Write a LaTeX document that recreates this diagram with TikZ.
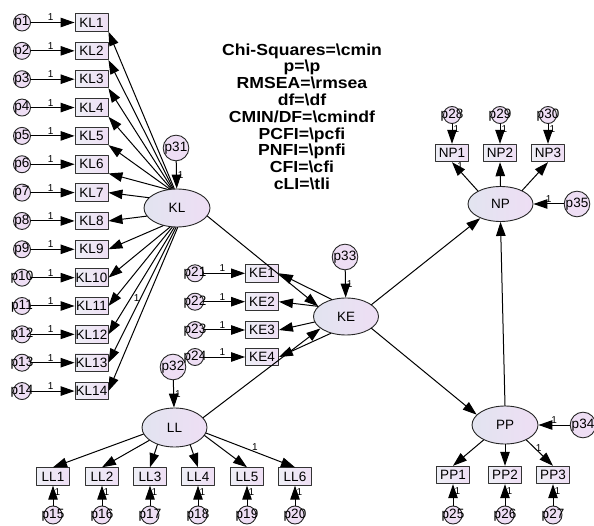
\documentclass[tikz,border=0pt]{standalone}
\usepackage{fontspec}
\setmainfont{Liberation Sans}
\usetikzlibrary{positioning,calc,arrows.meta,shapes.geometric}

\definecolor{tim}{RGB}{238,222,244}
\definecolor{xam}{RGB}{226,228,240}

\begin{document}
\begin{tikzpicture}[x=1pt,y=-1pt, font=\fontsize{13.5}{15}\selectfont, line cap=round, line join=round,
	obs/.style={draw=black!80, line width=0.9pt, left color=xam!60!white, right color=tim, minimum width=33pt, minimum height=17.5pt, inner sep=0pt},
	lat/.style={ellipse, draw=black!85, line width=0.9pt, left color=xam, right color=tim, minimum width=66pt, minimum height=38pt, inner sep=0pt},
	err/.style={circle, draw=black!85, line width=0.9pt, fill=tim, minimum size=17pt, inner sep=0pt},
	errL/.style={err, minimum size=24pt},
	arr/.style={-{Triangle[length=14pt,width=9.5pt]}, line width=1pt},
	lbl/.style={font=\fontsize{10}{10}\selectfont, inner sep=1pt}]
	\useasboundingbox (0,0) rectangle (594,526);
	
	% ===== chỉ số mô hình =====
	\node[anchor=north, align=center, xscale=1.1, font=\bfseries\fontsize{16}{16.8}\selectfont] (fit) at (302,40)
	{Chi-Squares=\textbackslash cmin\\ p=\textbackslash p\\ RMSEA=\textbackslash rmsea\\ df=\textbackslash df\\
		CMIN/DF=\textbackslash cmindf\\ PCFI=\textbackslash pcfi\\ PNFI=\textbackslash pnfi\\ CFI=\textbackslash cfi\\ cLI=\textbackslash tli};
	
	% ===== các biến tiềm ẩn =====
	\node[lat] (KL) at (177,208) {KL};
	\node[lat, minimum width=65pt, minimum height=37pt] (KE) at (346,316.5) {KE};
	\node[lat, minimum width=65pt, minimum height=39pt] (LL) at (174.5,427.5) {LL};
	\node[lat, minimum width=65pt, minimum height=35pt] (NP) at (500.5,204) {NP};
	\node[lat] (PP) at (505,425) {PP};
	
	% ===== sai số của biến tiềm ẩn =====
	\node[errL] (p31) at (176,148) {p31};
	\node[errL] (p33) at (345,257) {p33};
	\node[errL] (p32) at (173,367) {p32};
	\node[errL] (p35) at (577,204) {p35};
	\node[errL] (p34) at (583,425) {p34};
	\draw[arr] (p31) -- node[lbl,right]{1} (KL);
	\draw[arr] (p33) -- node[lbl,right]{1} (KE);
	\draw[arr] (p32) -- node[lbl,right]{1} (LL);
	\draw[arr] (p35) -- node[lbl,above]{1} (NP);
	\draw[arr] (p34) -- node[lbl,above]{1} (PP);
	
	% ===== thang đo KL =====
	\foreach \i in {1,...,14}{
		\pgfmathsetmacro\yy{22.5+(\i-1)*28.35}
		\node[err] (p\i) at (22,\yy) {\makebox[0pt]{p\i}};
		\node[obs] (KL\i) at (91.5,\yy) {KL\i};
		\draw[arr] (p\i) -- node[lbl,above,pos=0.45]{1} (KL\i);
	}
	\foreach \i/\a in {1/98,2/101,3/104,4/107,5/111,6/117}{
		\draw[arr] (KL.\a) -- (KL\i.south east);
	}
	\foreach \i/\a in {7/160,8/195,9/232,10/250,11/256,12/262,14/272}{
		\draw[arr] (KL.\a) -- (KL\i.east);
	}
	\draw[arr] (KL.267) -- node[lbl,pos=0.52,left]{1} (KL13.east);
	
	% ===== thang đo KE =====
	\foreach \i/\yy in {1/273.3,2/301.7,3/330,4/357}{
		\pgfmathtruncatemacro\k{20+\i}
		\node[err] (p\k) at (195,\yy) {\makebox[0pt]{p\k}};
		\node[obs] (KE\i) at (262,\yy) {KE\i};
		\draw[arr] (p\k) -- node[lbl,above,pos=0.45]{1} (KE\i);
	}
	\foreach \i/\a in {1/130,2/160,3/190,4/228}{
		\draw[arr] (KE.\a) -- (KE\i.east);
	}
	
	% ===== thang đo LL =====
	\foreach \i/\xx in {1/53,2/102,3/150,4/198,5/247,6/295}{
		\pgfmathtruncatemacro\k{14+\i}
		\node[obs] (LL\i) at (\xx,476.5) {LL\i};
		\node[err, minimum size=18pt] (p\k) at (\xx,515) {\makebox[0pt]{p\k}};
		\draw[arr] (p\k) -- node[lbl,right,pos=0.7]{1} (LL\i);
	}
	\foreach \i/\a in {1/192,2/207,3/225,4/312,5/345}{
		\draw[arr] (LL.\a) -- (LL\i.north);
	}
	\draw[arr] (LL.350) -- node[lbl,above,pos=0.55]{1} (LL6.north);
	
	% ===== thang đo NP =====
	\foreach \i/\xx in {1/452,2/500,3/548}{
		\pgfmathtruncatemacro\k{27+\i}
		\node[obs] (NP\i) at (\xx,153) {NP\i};
		\node[err] (p\k) at (\xx,115) {\makebox[0pt]{p\k}};
		\draw[arr] (p\k) -- node[lbl,right,pos=0.25]{1} (NP\i);
	}
	\draw[arr] (NP.150) -- node[lbl,right,pos=0.85]{1} (NP1.south);
	\draw[arr] (NP.north) -- (NP2.south);
	\draw[arr] (NP.32) -- (NP3.south);
	
	% ===== thang đo PP =====
	\foreach \i/\xx in {1/453,2/505,3/553}{
		\pgfmathtruncatemacro\k{24+\i}
		\node[obs] (PP\i) at (\xx,475) {PP\i};
		\node[err, minimum size=18pt] (p\k) at (\xx,515) {\makebox[0pt]{p\k}};
		\draw[arr] (p\k) -- node[lbl,right,pos=0.7]{1} (PP\i);
	}
	\draw[arr] (PP.215) -- (PP1.north);
	\draw[arr] (PP.south) -- (PP2.north);
	\draw[arr] (PP.325) -- node[lbl,right,pos=0.3]{1} (PP3.north);
	
	% ===== quan hệ cấu trúc =====
	\draw[arr] (KL.-15) -- (KE.160);
	\draw[arr] (LL.19) -- (KE.205);
	\draw[arr] (KE.25) -- (NP.215);
	\draw[arr] (KE.-25) -- (PP.160);
	\draw[arr] (PP.north) -- (NP.south);
\end{tikzpicture}
\end{document}
